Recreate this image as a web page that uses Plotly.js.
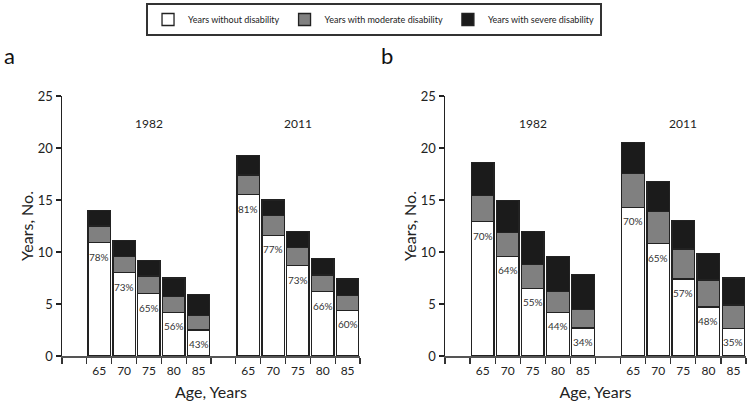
<!DOCTYPE html>
<html>
<head>
<meta charset="utf-8">
<script src="https://cdn.plot.ly/plotly-3.0.1.min.js"></script>
<style>html,body{margin:0;padding:0;background:#fff;}#chart{width:750px;height:401px;}</style>
</head>
<body>
<div id="chart"></div>
<script>
// ---- data ----
const years = ["1982", "2011"];
const ages = ["65", "70", "75", "80", "85"];

// Panel a
const withoutA  = [10.9, 8.0, 6.0, 4.2, 2.5,   15.5, 11.6, 8.7, 6.2, 4.4];
const moderateA = [1.6, 1.6, 1.7, 1.5, 1.4,    1.9, 1.9, 1.7, 1.6, 1.4];
const severeA   = [1.5, 1.5, 1.5, 1.8, 2.0,    1.9, 1.5, 1.6, 1.6, 1.6];
const pctA      = ["78%", "73%", "65%", "56%", "43%", "81%", "77%", "73%", "66%", "60%"];

// Panel b
const withoutB  = [12.9, 9.6, 6.5, 4.2, 2.7,   14.3, 10.8, 7.4, 4.7, 2.65];
const moderateB = [2.5, 2.3, 2.3, 2.0, 1.75,   3.25, 3.1, 2.9, 2.6, 2.25];
const severeB   = [3.2, 3.05, 3.2, 3.35, 3.4,  2.95, 2.85, 2.75, 2.55, 2.6];
const pctB      = ["70%", "64%", "55%", "44%", "34%", "70%", "65%", "57%", "48%", "35%"];

const seriesNames = ["Years without disability", "Years with moderate disability", "Years with severe disability"];
const seriesColors = ["#ffffff", "#808080", "#1b1b1b"];

// ---- layout helpers ----
// slots: one empty slot, 5 bars, one empty slot, 5 bars
const xPos = [];
const xText = [];
years.forEach((y, g) => ages.forEach((a, i) => { xPos.push(g * 6 + i + 1.5); xText.push(a); }));
const groupCenters = years.map((y, g) => g * 6 + 3.5);
const slotEdges = [];
for (let k = 0; k <= years.length * 6; k++) slotEdges.push(k);

const FONT = "Lato, 'Noto Sans', sans-serif";
const lineStyle = {color: "#222", width: 1.3};

function barTraces(vals, xa, ya, legend) {
  return vals.map((v, s) => ({
    type: "bar", x: xPos, y: v, xaxis: xa, yaxis: ya,
    name: seriesNames[s], showlegend: legend, legendgroup: "s" + s,
    width: 0.9,
    marker: {color: seriesColors[s], line: lineStyle},
    hoverinfo: "y"
  }));
}

const data = [
  ...barTraces([withoutA, moderateA, severeA], "x", "y", true),
  ...barTraces([withoutB, moderateB, severeB], "x2", "y2", false)
];

function xAxis(domain, anchor) {
  return {
    domain: domain, anchor: anchor, range: [0, years.length * 6],
    tickmode: "array", tickvals: xPos, ticktext: xText,
    ticks: "outside", ticklen: 3, tickcolor: "rgba(0,0,0,0)",
    minor: {tickmode: "array", tickvals: slotEdges, ticks: "outside", ticklen: 6, tickwidth: 1.3, tickcolor: "#333"},
    showline: true, linecolor: "#555", linewidth: 2,
    showgrid: false, zeroline: false, fixedrange: true,
    tickfont: {size: 12, color: "#222"},
    title: {text: "Age, Years", font: {size: 16, color: "#222"}, standoff: 9}
  };
}
function yAxis(anchor) {
  return {
    domain: [45 / 401, 305 / 401], anchor: anchor, range: [0, 25],
    tickmode: "linear", tick0: 0, dtick: 5, ticks: "outside", ticklen: 5, tickwidth: 1.3, tickcolor: "#222",
    showline: true, linecolor: "#222", linewidth: 1.5,
    showgrid: false, zeroline: false, fixedrange: true,
    tickfont: {size: 13, color: "#222"},
    title: {text: "Years, No.", font: {size: 16, color: "#222"}, standoff: 0}
  };
}

const annotations = [];
function addPct(pcts, vals, xa, ya) {
  pcts.forEach((p, i) => annotations.push({
    x: xPos[i], y: vals[i], xref: xa, yref: ya, text: p, showarrow: false,
    yanchor: "middle", yshift: -14, font: {size: 10, color: "#333"}
  }));
}
addPct(pctA, withoutA, "x", "y");
addPct(pctB, withoutB, "x2", "y2");
years.forEach((y, g) => {
  annotations.push({x: groupCenters[g], y: 22.4, xref: "x", yref: "y", text: y, showarrow: false, font: {size: 12, color: "#222"}});
  annotations.push({x: groupCenters[g], y: 22.4, xref: "x2", yref: "y2", text: y, showarrow: false, font: {size: 12, color: "#222"}});
});
annotations.push({x: 2 / 750, y: 1 - 56 / 401, xref: "paper", yref: "paper", text: "a", showarrow: false, xanchor: "left", yanchor: "middle", font: {size: 22, color: "#111"}});
annotations.push({x: 379 / 750, y: 1 - 56 / 401, xref: "paper", yref: "paper", text: "b", showarrow: false, xanchor: "left", yanchor: "middle", font: {size: 22, color: "#111"}});

const layout = {
  width: 750, height: 401,
  margin: {l: 0, r: 0, t: 0, b: 0},
  paper_bgcolor: "#fff", plot_bgcolor: "#fff",
  font: {family: FONT, color: "#222"},
  barmode: "stack",
  bargap: 0.1,
  xaxis: xAxis([62 / 750, 360 / 750], "y"),
  yaxis: yAxis("x"),
  xaxis2: xAxis([445 / 750, 746 / 750], "y2"),
  yaxis2: yAxis("x2"),
  showlegend: true,
  legend: {
    orientation: "h", x: 0.4987, xanchor: "center", y: 1 - 3 / 401, yanchor: "top",
    bordercolor: "#333", borderwidth: 2, bgcolor: "#fff",
    font: {size: 9, color: "#222"}, traceorder: "normal"
  },
  annotations: annotations
};

Plotly.newPlot("chart", data, layout, {staticPlot: true, displayModeBar: false});
</script>
</body>
</html>
